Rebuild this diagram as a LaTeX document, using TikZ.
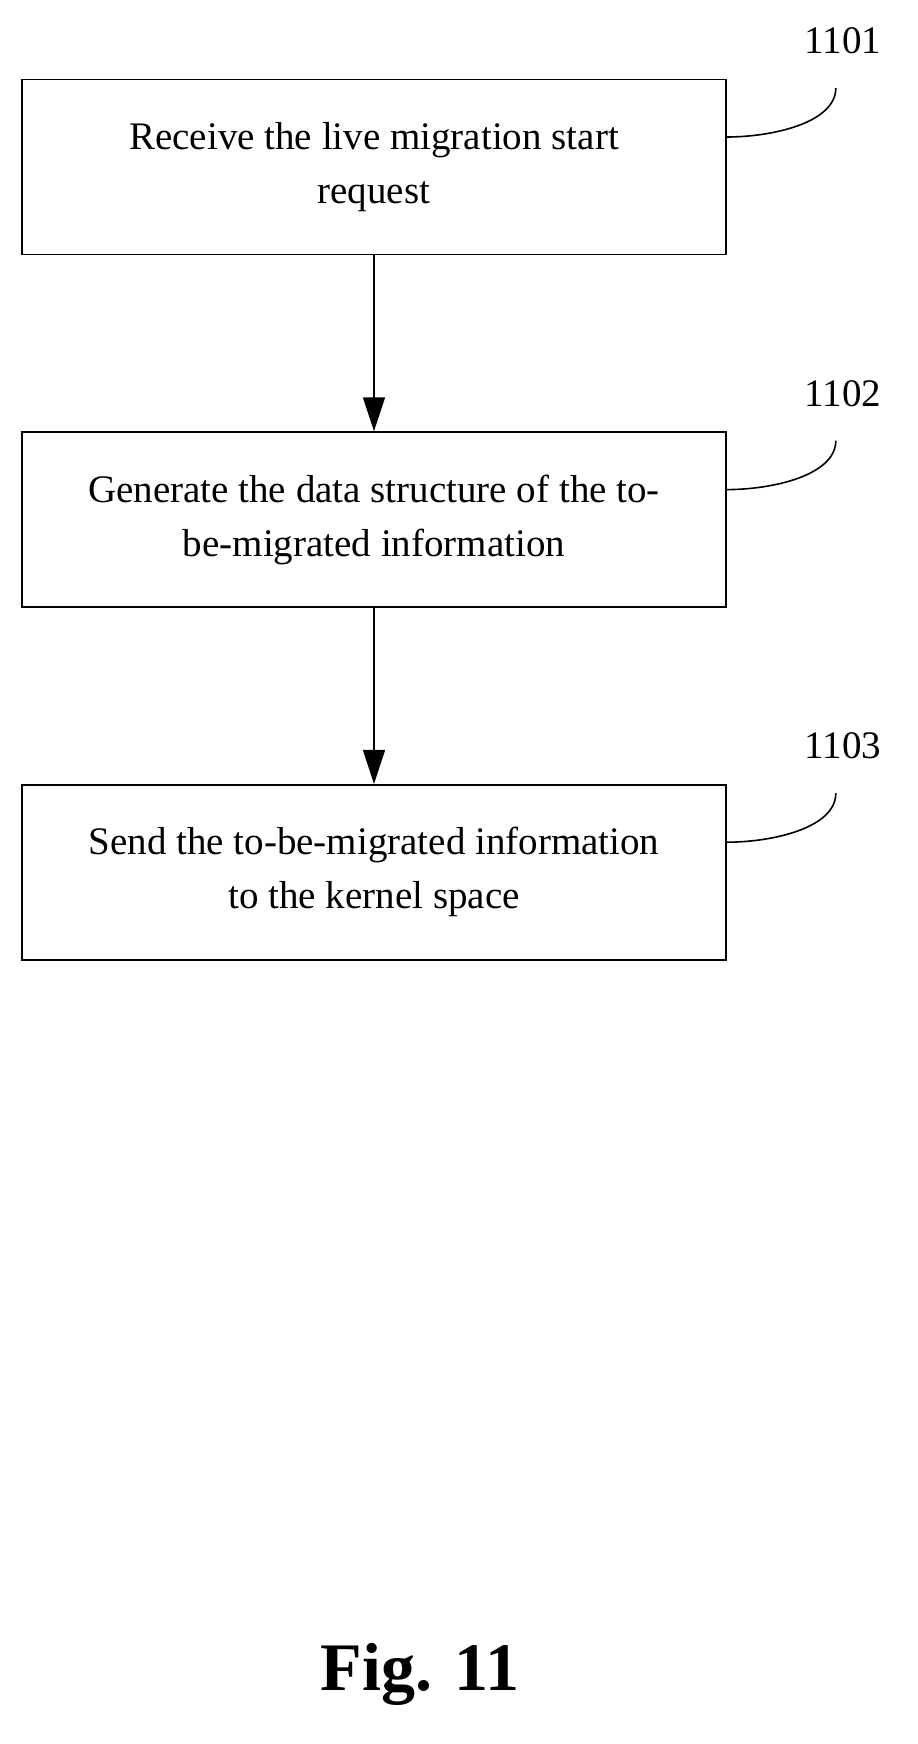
\documentclass[tikz,border=0pt]{standalone}
\usepackage{fontspec}
\setmainfont{Liberation Serif}
\usetikzlibrary{positioning,arrows.meta}

\begin{document}
\begin{tikzpicture}[x=0.5pt,y=-0.5pt,
    stepbox/.style={draw, thick, minimum width=352pt, minimum height=87.5pt,
        align=center, font=\fontsize{19.5}{27}\selectfont},
    flow/.style={-{Triangle[length=17pt,width=11pt]}, thick},
    tag/.style={font=\fontsize{19.5}{22}\selectfont},
    node distance=88pt]
        \useasboundingbox (0,0) rectangle (917,1744);

        % Steps
        \node[stepbox] (recv) at (374,167) {Receive the live migration start\\request};
        \node[stepbox, below=of recv] (gen) {Generate the data structure of the to-\\be-migrated information};
        \node[stepbox, below=of gen] (send) {Send the to-be-migrated information\\to the kernel space};

        \draw[flow] (recv) -- (gen);
        \draw[flow] (gen) -- (send);

        % Step labels and leaders
        \foreach \n/\t in {recv/1101, gen/1102, send/1103} {
            \node[tag] (tag\t) at ([shift={(116,-126)}]\n.east) {\t};
            \coordinate (end\t) at ([shift={(109,-79)}]\n.east);
            \draw[thick] ([yshift=15pt]\n.east) .. controls +(45,0) and +(0,35) .. (end\t);
        }

        \node[font=\bfseries\fontsize{34}{40}\selectfont] (fig) at (420,1674) {Fig. 11};
    \end{tikzpicture}
\end{document}
